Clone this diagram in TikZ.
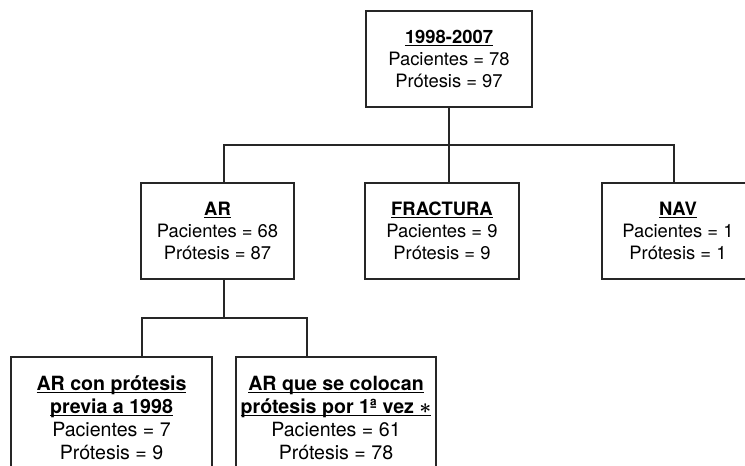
\documentclass[tikz,border=0pt]{standalone}
\usepackage{fontspec}
\setmainfont{TeX Gyre Heros}
\newcommand{\ttl}[1]{\underline{\smash{\textbf{#1}}}\vphantom{\textbf{#1}}}
\begin{document}
\begin{tikzpicture}[x=1pt,y=-1pt,
  box/.style={draw=black!85,line width=1.3pt,fill=white,align=center,inner sep=0pt,
    font=\fontsize{18.4}{22}\selectfont},
  bigbox/.style={box,font=\fontsize{19.6}{23}\selectfont},
  conn/.style={draw=black!85,line width=1.3pt}]
\useasboundingbox (0,0) rectangle (745,466);
\clip (0,0) rectangle (745,466);
\fill[white] (0,0) rectangle (745,466);
% nodes
\node[box,minimum width=166pt,minimum height=96pt] (top) at (449,59)
  {\ttl{1998-2007}\\Pacientes = 78\\Prótesis = 97};
\node[box,minimum width=153pt,minimum height=96pt] (ar) at (217.5,231)
  {\ttl{AR}\\Pacientes = 68\\Prótesis = 87};
\node[box,minimum width=154pt,minimum height=96pt] (fr) at (442,231)
  {\ttl{FRACTURA}\\Pacientes = 9\\Prótesis = 9};
\node[box,minimum width=152pt,minimum height=96pt] (nav) at (678,231)
  {\ttl{NAV}\\Pacientes = 1\\Prótesis = 1};
\node[bigbox,minimum width=201pt,minimum height=122pt] (bl) at (111.5,418)
  {\ttl{AR con prótesis}\\\ttl{previa a 1998}\\Pacientes = 7\\Prótesis = 9};
\node[bigbox,minimum width=200pt,minimum height=122pt] (br) at (336,418)
  {\ttl{AR que se colocan}\\\ttl{prótesis por 1ª vez {\boldmath$\ast$}}\\Pacientes = 61\\Prótesis = 78};
% junction coordinates
\coordinate (hb) at (449,145);
\coordinate (lb) at (224,318);
\coordinate (xa) at (224,0);
\coordinate (xn) at (674,0);
\coordinate (xl) at (142,0);
\coordinate (xr) at (307,0);
% connectors
\draw[conn] (top.south) -- (top.south |- fr.north);
\draw[conn] (ar.north -| xa) |- (hb) -| (nav.north -| xn);
\draw[conn] (ar.south -| xa) -- (lb);
\draw[conn] (bl.north -| xl) |- (lb) -| (br.north -| xr);
\end{tikzpicture}
\end{document}
